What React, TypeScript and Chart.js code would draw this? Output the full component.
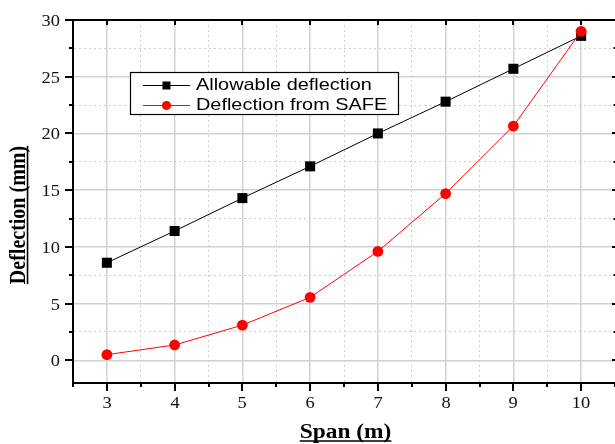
import React, { useEffect, useRef } from "react";
import { Chart, registerables } from "chart.js";

Chart.register(...registerables);

const spans = [3, 4, 5, 6, 7, 8, 9, 10];
const allowable = [8.6, 11.4, 14.3, 17.1, 20.0, 22.8, 25.7, 28.6];
const safe = [0.5, 1.35, 3.1, 5.55, 9.6, 14.7, 20.65, 29.0];
const seriesNames = ["Allowable deflection", "Deflection from SAFE"];
const xTickValues = [2.5, 3, 3.5, 4, 4.5, 5, 5.5, 6, 6.5, 7, 7.5, 8, 8.5, 9, 9.5, 10, 10.5];
const yTickValues = [0, 2.5, 5, 7.5, 10, 12.5, 15, 17.5, 20, 22.5, 25, 27.5, 30];
const xTitle = "Span (m)";
const yTitle = "Deflection (mm)";

const SERIF = "'Liberation Serif', 'Times New Roman', serif";
const SANS = "'Liberation Sans', Arial, sans-serif";
const STRETCH = 1.15;

const isMajorX = (v: number) => Number.isInteger(v);
const isMajorY = (v: number) => v % 5 === 0;

function drawMarker(ctx: CanvasRenderingContext2D, kind: string, x: number, y: number, color: string) {
  ctx.save();
  ctx.fillStyle = color;
  if (kind === "rect") {
    ctx.fillRect(x - 4, y - 4, 8, 8);
  } else {
    ctx.beginPath();
    ctx.arc(x, y, 4.6, 0, Math.PI * 2);
    ctx.fill();
  }
  ctx.restore();
}

function stretchedText(
  ctx: CanvasRenderingContext2D,
  text: string,
  x: number,
  y: number,
  align: CanvasTextAlign,
  sx: number
) {
  ctx.save();
  ctx.translate(x, y);
  ctx.scale(sx, 1);
  ctx.textAlign = align;
  ctx.fillText(text, 0, 0);
  ctx.restore();
}

const decorPlugin = {
  id: "decor",
  afterDraw(chart: any) {
    const ctx: CanvasRenderingContext2D = chart.ctx;
    const area = chart.chartArea;
    const xs = chart.scales.x;
    const ys = chart.scales.y;
    ctx.save();
    ctx.strokeStyle = "#000";
    ctx.lineWidth = 2;
    // top frame line
    ctx.beginPath();
    ctx.moveTo(area.left - 1, area.top);
    ctx.lineTo(area.right, area.top);
    ctx.stroke();
    // left ticks + labels
    ctx.fillStyle = "#111";
    ctx.font = `16px ${SERIF}`;
    ctx.textBaseline = "alphabetic";
    yTickValues.forEach((v) => {
      const py = Math.round(ys.getPixelForValue(v));
      const len = isMajorY(v) ? 8 : 4;
      ctx.beginPath();
      ctx.moveTo(area.left, py);
      ctx.lineTo(area.left - len, py);
      ctx.stroke();
      const rlen = isMajorY(v) ? 3 : 1.5;
      ctx.beginPath();
      ctx.moveTo(area.right, py);
      ctx.lineTo(area.right - rlen, py);
      ctx.stroke();
      if (isMajorY(v)) stretchedText(ctx, String(v), area.left - 13, py + 5.8, "right", STRETCH);
    });
    // bottom ticks, top ticks, labels
    xTickValues.forEach((v) => {
      const px = Math.round(xs.getPixelForValue(v));
      const len = isMajorX(v) ? 8 : 4;
      ctx.beginPath();
      ctx.moveTo(px, area.bottom);
      ctx.lineTo(px, area.bottom + len);
      ctx.stroke();
      if (isMajorX(v) && v > 2.5 && v < 10.5) {
        ctx.beginPath();
        ctx.moveTo(px, area.top);
        ctx.lineTo(px, area.top + 5);
        ctx.stroke();
        stretchedText(ctx, String(v), px, area.bottom + 24.5, "center", STRETCH);
      }
    });
    // left axis slight extension
    ctx.beginPath();
    ctx.moveTo(area.left, area.bottom);
    ctx.lineTo(area.left, area.bottom + 3);
    ctx.stroke();

    // legend box
    const bx = 130.5, by = 72.5, bw = 268, bh = 42;
    ctx.fillStyle = "#fff";
    ctx.fillRect(bx, by, bw, bh);
    ctx.lineWidth = 1.2;
    ctx.strokeStyle = "#000";
    ctx.strokeRect(bx, by, bw, bh);
    const items = [
      { name: seriesNames[0], color: "#000", marker: "rect", y: 85 },
      { name: seriesNames[1], color: "#ff0000", marker: "circle", y: 105 },
    ];
    items.forEach((it) => {
      ctx.strokeStyle = it.color;
      ctx.lineWidth = 1;
      ctx.beginPath();
      ctx.moveTo(143, it.y + 0.5);
      ctx.lineTo(190, it.y + 0.5);
      ctx.stroke();
      drawMarker(ctx, it.marker, 166.5, it.y + 0.5, it.color);
      ctx.fillStyle = "#000";
      ctx.font = `17px ${SANS}`;
      ctx.textBaseline = "middle";
      stretchedText(ctx, it.name, 196, it.y + 0.5, "left", 1.17);
    });

    // axis titles, bold underlined
    ctx.fillStyle = "#000";
    ctx.strokeStyle = "#000";
    // x title
    ctx.font = `bold 20px ${SERIF}`;
    ctx.textBaseline = "alphabetic";
    const xcx = 345.5, xby = 438;
    stretchedText(ctx, xTitle, xcx, xby, "center", 1.17);
    const xw = ctx.measureText(xTitle).width * 1.17;
    ctx.lineWidth = 1.5;
    ctx.beginPath();
    ctx.moveTo(xcx - xw / 2, xby + 3);
    ctx.lineTo(xcx + xw / 2, xby + 3);
    ctx.stroke();
    // y title
    ctx.save();
    ctx.translate(25, 215);
    ctx.rotate(-Math.PI / 2);
    ctx.scale(1, 1.15);
    ctx.font = `bold 20px ${SERIF}`;
    ctx.textAlign = "center";
    ctx.textBaseline = "alphabetic";
    ctx.fillText(yTitle, 0, 0);
    const yw = ctx.measureText(yTitle).width;
    ctx.lineWidth = 1.4;
    ctx.beginPath();
    ctx.moveTo(-yw / 2, 2.2);
    ctx.lineTo(yw / 2, 2.2);
    ctx.stroke();
    ctx.restore();

    ctx.restore();
  },
};

export default function App() {
  const ref = useRef<HTMLCanvasElement | null>(null);
  useEffect(() => {
    if (!ref.current) return;
    const chart = new Chart(ref.current, {
      type: "line",
      data: {
        datasets: [
          {
            label: seriesNames[0],
            data: spans.map((s, i) => ({ x: s, y: allowable[i] })),
            borderColor: "#000",
            backgroundColor: "#000",
            borderWidth: 1,
            pointStyle: "rect",
            pointRadius: 7.1,
            pointBorderWidth: 0,
            pointHoverRadius: 7.1,
            order: 1,
            fill: false,
            tension: 0,
          },
          {
            label: seriesNames[1],
            data: spans.map((s, i) => ({ x: s, y: safe[i] })),
            borderColor: "#ff0000",
            backgroundColor: "#ff0000",
            borderWidth: 1,
            pointStyle: "circle",
            pointRadius: 5.4,
            pointBorderWidth: 0,
            pointHoverRadius: 5.4,
            order: 0,
            fill: false,
            tension: 0,
          },
        ],
      },
      options: {
        animation: false,
        responsive: false,
        events: [],
        layout: { autoPadding: false, padding: { top: 20, right: 0, left: 0, bottom: 0 } },
        plugins: { legend: { display: false }, tooltip: { enabled: false } },
        scales: {
          x: {
            type: "linear",
            min: 2.5,
            max: 10.5,
            afterBuildTicks: (scale: any) => {
              scale.ticks = xTickValues.map((v) => ({ value: v }));
            },
            afterFit: (scale: any) => {
              scale.height = 61;
              scale.paddingLeft = 0;
              scale.paddingRight = 0;
            },
            ticks: { display: false, autoSkip: false, maxRotation: 0 },
            grid: {
              drawTicks: false,
              color: (c: any) => {
                const v = c.tick ? c.tick.value : 0;
                if (v <= 2.5 || v >= 10.5) return "rgba(0,0,0,0)";
                return isMajorX(v) ? "#d2d2d2" : "#cdcdcd";
              },
              lineWidth: (c: any) => (c.tick && isMajorX(c.tick.value) ? 1.5 : 1),
            },
            border: {
              display: true,
              color: "#000",
              width: 2,
              dash: (c: any) => (c.tick && isMajorX(c.tick.value) ? [] : [2, 3]),
            },
          },
          y: {
            type: "linear",
            min: -2,
            max: 30,
            afterBuildTicks: (scale: any) => {
              scale.ticks = yTickValues.map((v) => ({ value: v }));
            },
            afterFit: (scale: any) => {
              scale.width = 73;
            },
            ticks: { display: false, autoSkip: false },
            grid: {
              drawTicks: false,
              color: (c: any) => {
                const v = c.tick ? c.tick.value : 0;
                if (v >= 30) return "rgba(0,0,0,0)";
                return isMajorY(v) ? "#d2d2d2" : "#cdcdcd";
              },
              lineWidth: (c: any) => (c.tick && isMajorY(c.tick.value) ? 1.5 : 1),
            },
            border: {
              display: true,
              color: "#000",
              width: 2,
              dash: (c: any) => (c.tick && isMajorY(c.tick.value) ? [] : [2, 3]),
            },
          },
        },
      },
      plugins: [decorPlugin],
    } as any);
    return () => chart.destroy();
  }, []);
  return (
    <div style={{ position: "fixed", left: 0, top: 0, width: 615, height: 444, background: "#fff" }}>
      <canvas ref={ref} width={615} height={444} style={{ display: "block" }} />
    </div>
  );
}
